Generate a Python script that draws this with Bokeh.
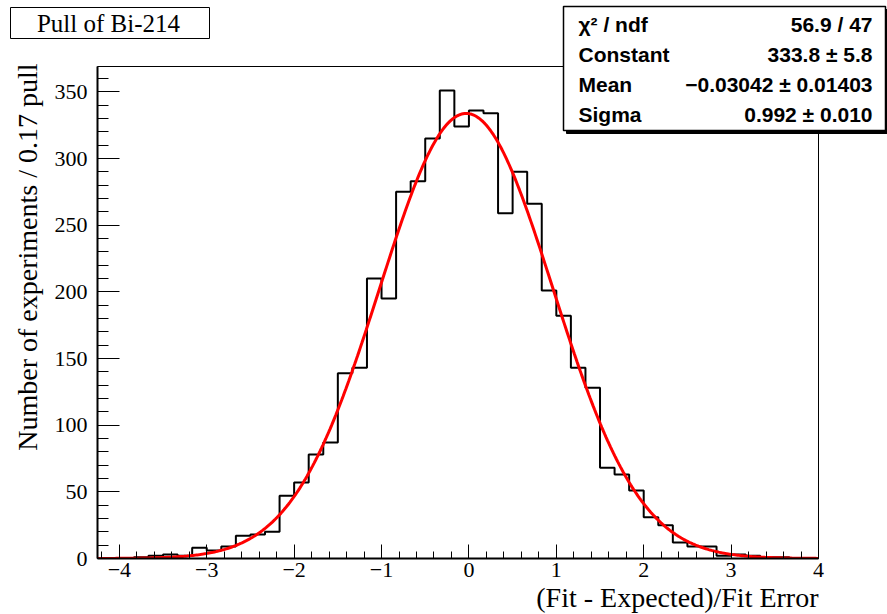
import numpy as np
from bokeh.plotting import figure
from bokeh.models import Range1d, FixedTicker
from bokeh.core.properties import value
from bokeh.embed import file_html
from bokeh.resources import INLINE

# ---- data ----
bin_width = 1 / 6
first_edge = -25 / 6
counts = [0, 0, 1, 2, 3, 2, 8, 6, 9, 17, 18, 20, 47, 57, 78, 87,
          139, 143, 210, 195, 275, 283, 315, 351, 324, 336, 334, 259,
          290, 266, 201, 182, 143, 128, 68, 63, 51, 31, 25, 12, 9, 9,
          2, 3, 2, 1, 1, 0, 0]

fit_constant = 333.8
fit_mean = -0.03042
fit_sigma = 0.992

x_ticks = [-4, -3, -2, -1, 0, 1, 2, 3, 4]
y_ticks = [0, 50, 100, 150, 200, 250, 300, 350]

stats_names = ["χ² / ndf", "Constant", "Mean", "Sigma"]
stats_values = ["56.9 / 47", "333.8 ± 5.8", "−0.03042 ± 0.01403", "0.992 ± 0.010"]

title_text = "Pull of Bi-214"
x_title = "(Fit - Expected)/Fit Error"
y_title = "Number of experiments / 0.17 pull"

# ---- figure ----
FW, FH = 721, 492   # frame size in pixels
p = figure(width=887, height=614, title=None,
           x_range=Range1d(-4.25, 4), y_range=Range1d(0, 369),
           extra_x_ranges={"px": Range1d(0, FW)},
           extra_y_ranges={"px": Range1d(0, FH)},
           output_backend="svg", toolbar_location=None,
           min_border_left=97, min_border_right=69,
           min_border_top=66, min_border_bottom=56)
p.background_fill_color = "white"
p.border_fill_color = "white"
p.outline_line_color = "black"
p.outline_line_width = 1
p.xgrid.visible = False
p.ygrid.visible = False

# histogram (step outline)
edges = [first_edge + i * bin_width for i in range(len(counts) + 1)]
p.step(x=edges, y=counts + [counts[-1]], mode="after",
       line_color="black", line_width=2)

# gaussian fit curve from the fitted parameters
xf = np.linspace(-4.25, 4, 500)
yf = fit_constant * np.exp(-0.5 * ((xf - fit_mean) / fit_sigma) ** 2)
p.line(xf, yf, line_color="red", line_width=3)

# axes
x_minor = [round(-4.2 + 0.2 * i, 2) for i in range(42)]
y_minor = list(range(0, 370, 10))
p.xaxis.ticker = FixedTicker(ticks=x_ticks, minor_ticks=x_minor)
p.yaxis.ticker = FixedTicker(ticks=y_ticks, minor_ticks=y_minor)
p.xaxis.major_label_overrides = {t: (("−" + str(abs(t))) if t < 0 else str(t)) for t in x_ticks}

for ax in (p.xaxis[0], p.yaxis[0]):
    ax.axis_line_color = "black"
    ax.axis_line_width = 2
    ax.major_tick_line_color = "black"
    ax.minor_tick_line_color = "black"
    ax.major_tick_line_width = 1
    ax.minor_tick_line_width = 1
    ax.major_tick_out = 0
    ax.minor_tick_out = 0
    ax.major_label_text_font = "Liberation Serif"
    ax.major_label_text_font_size = "22px"
    ax.major_label_text_color = "black"

p.xaxis.major_tick_in = 14
p.xaxis.minor_tick_in = 7
p.xaxis.major_label_standoff = 4
p.yaxis.major_tick_in = 22
p.yaxis.minor_tick_in = 11
p.yaxis.major_label_standoff = 10

PX = dict(x_range_name="px", y_range_name="px", level="overlay")

# axis titles (ROOT style, aligned to the axis end)
p.text(x=[721], y=[-39], text=[x_title], text_align="right",
       text_baseline="alphabetic", text_font=value("Liberation Serif"),
       text_font_size="28px", text_color="black", **PX)
p.text(x=[-70], y=[495], text=[y_title], angle=np.pi / 2, text_align="right",
       text_baseline="alphabetic", text_font=value("Liberation Serif"),
       text_font_size="28px", text_color="black", **PX)

# title box
p.quad(left=[-87], right=[112], bottom=[520], top=[551],
       fill_color="white", line_color="black", line_width=1, **PX)
p.text(x=[11], y=[535], text=[title_text], text_align="center",
       text_baseline="middle", text_font=value("Liberation Serif"),
       text_font_size="25px", text_color="black", **PX)

# stats box with shadow
p.quad(left=[469], right=[791], bottom=[425], top=[549],
       fill_color="black", line_color="black", line_width=1, **PX)
p.quad(left=[466], right=[788], bottom=[428], top=[552],
       fill_color="white", line_color="black", line_width=1.5, **PX)
row_y = [534, 504, 474, 444]
p.text(x=[481] * 4, y=row_y, text=stats_names, text_align="left",
       text_baseline="middle", text_font=value("Liberation Sans"),
       text_font_style="bold", text_font_size="21px", text_color="black", **PX)
p.text(x=[775] * 4, y=row_y, text=stats_values, text_align="right",
       text_baseline="middle", text_font=value("Liberation Sans"),
       text_font_style="bold", text_font_size="21px", text_color="black", **PX)

open("out.html", "w").write(file_html(p, INLINE))
